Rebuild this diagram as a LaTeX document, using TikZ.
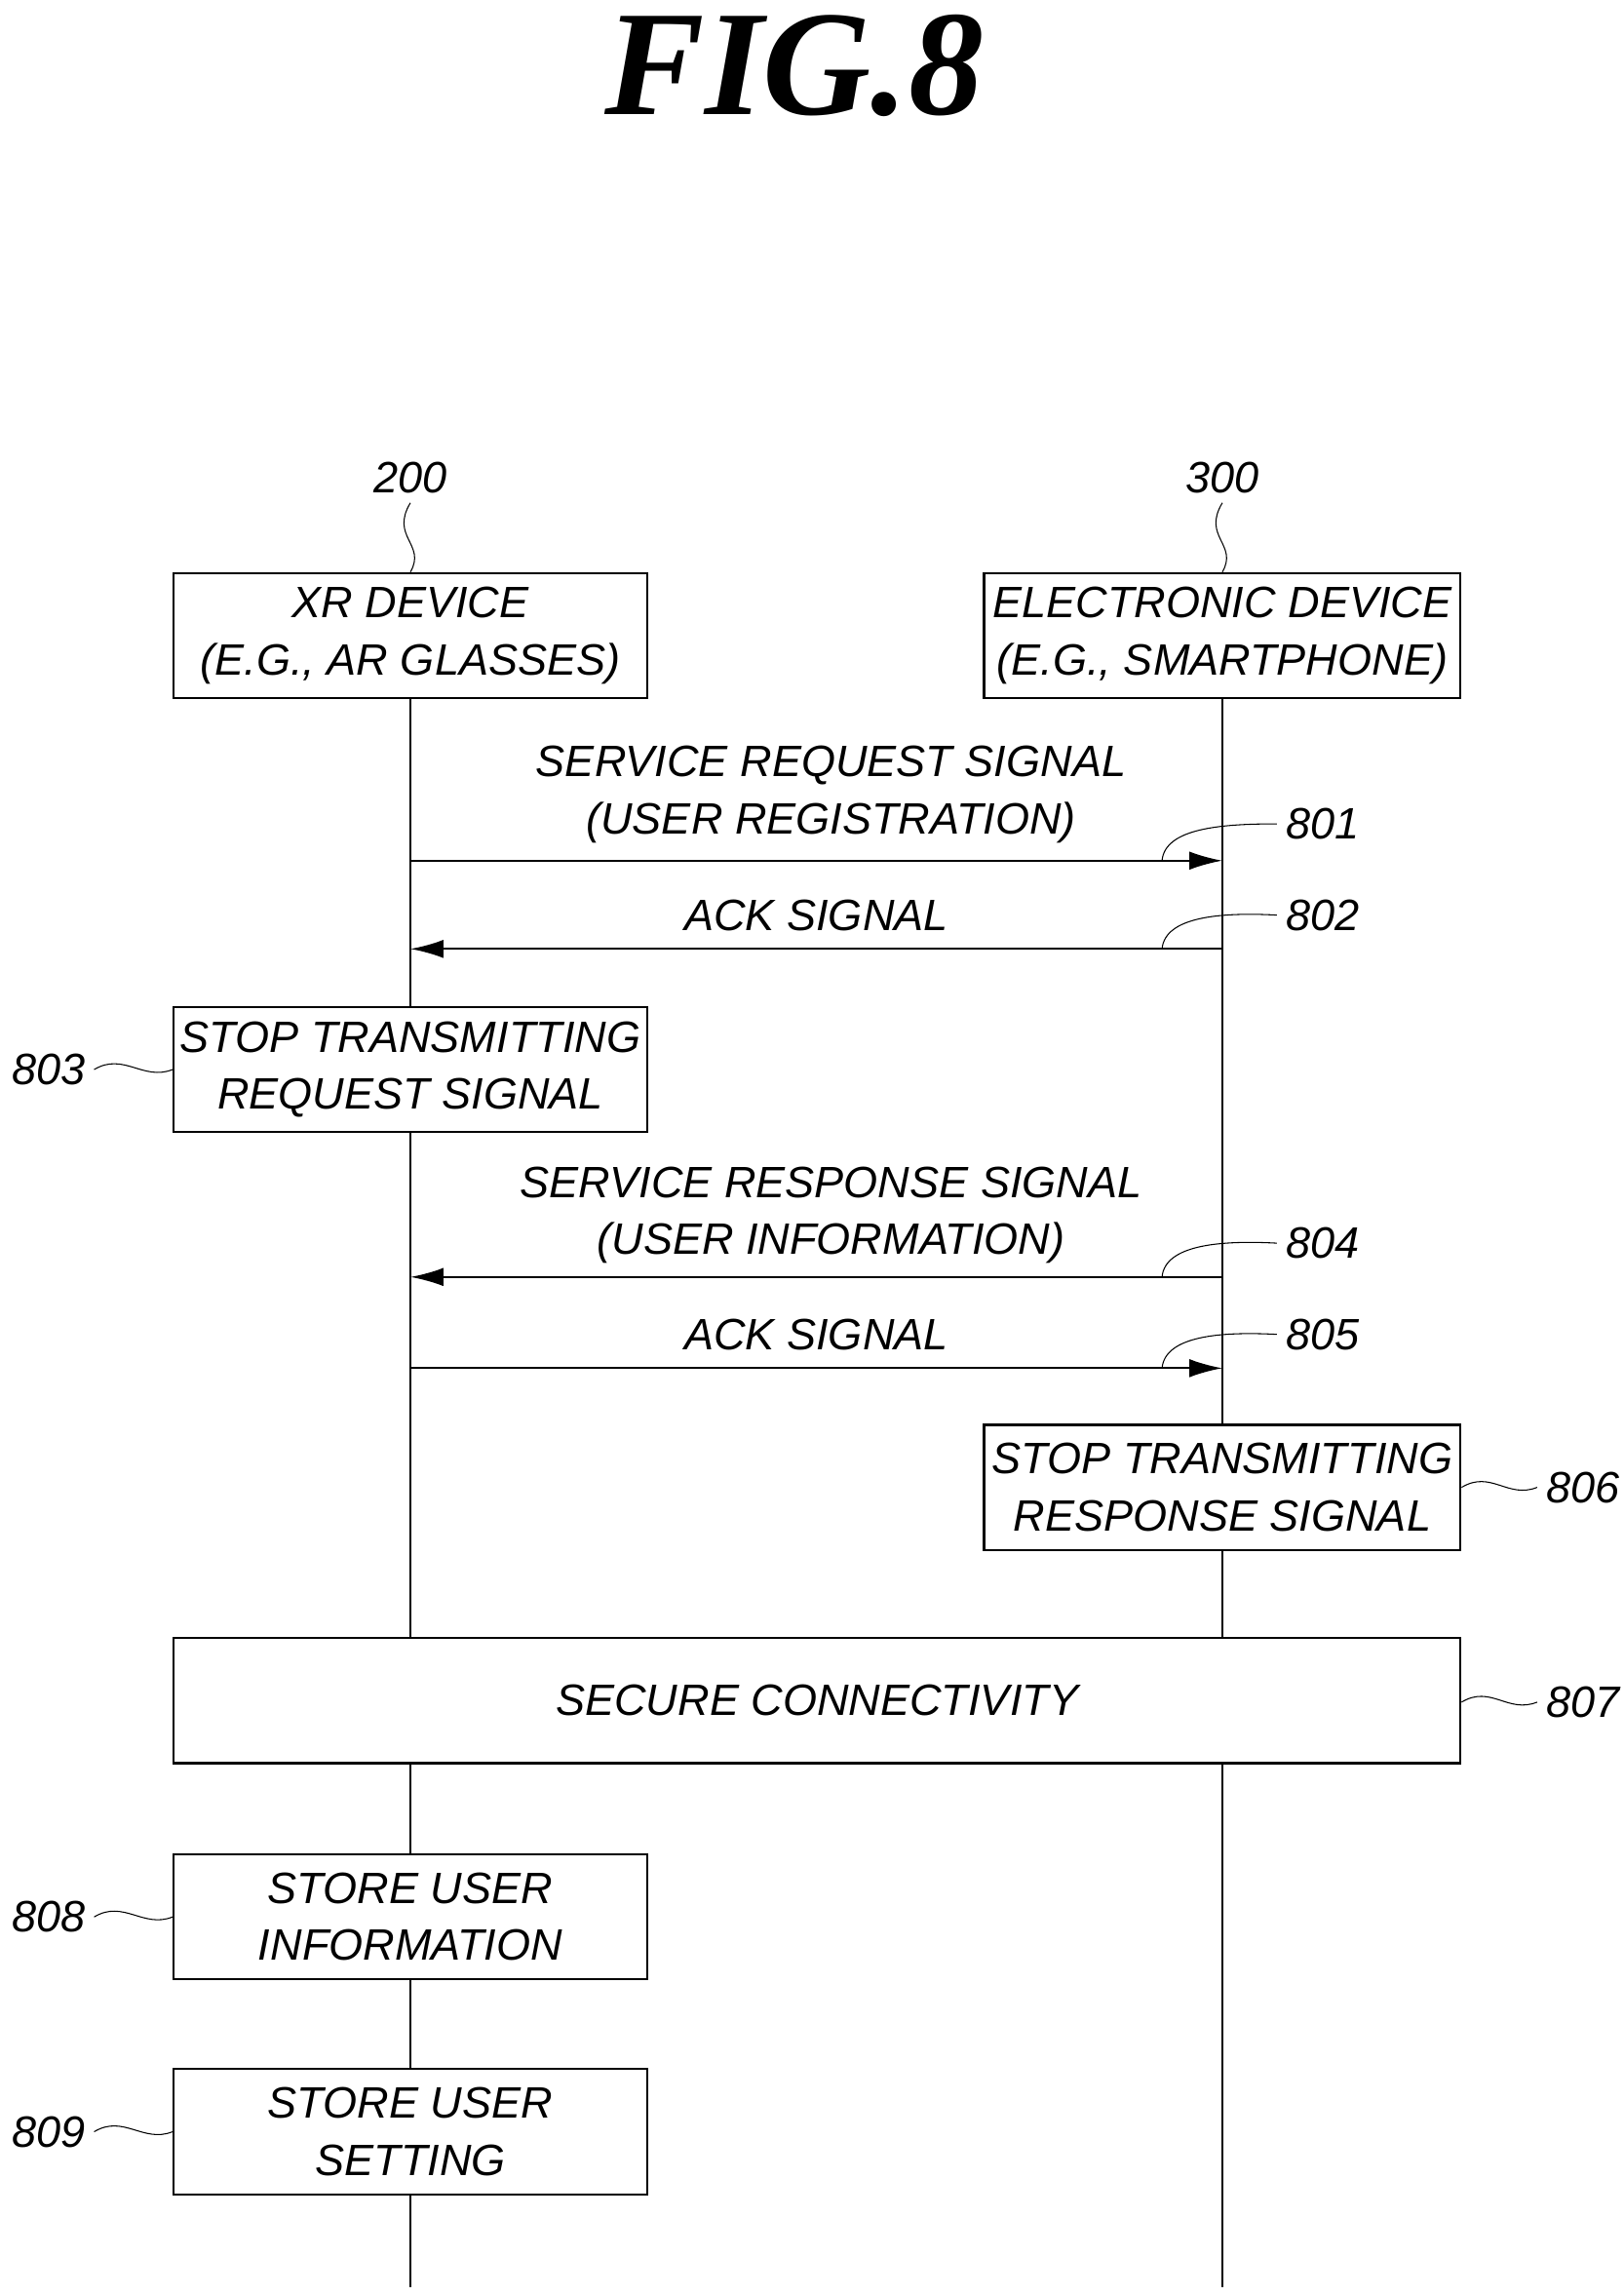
\documentclass[tikz,border=0pt]{standalone}
\usepackage{fontspec}
\setmainfont{Liberation Sans}
\usepackage{tikz}
\usetikzlibrary{arrows.meta}
\tikzset{
  txt/.style={font=\fontsize{17}{22}\selectfont\itshape,align=center},
  box/.style={draw,thick,txt,minimum height=1.7cm,inner sep=0pt},
  msg/.style={thick,-{Latex[length=0.45cm,width=0.25cm]}},
  tick/.style={thin}
}
\begin{document}
\begin{tikzpicture}[x=0.02cm,y=-0.02cm]
  \useasboundingbox (0,0) rectangle (1104,1560);
  \node[font=\fontsize{58}{60}\selectfont\bfseries\itshape,
        font=\fontsize{58}{60}\selectfont\fontspec{Liberation Serif}\bfseries\itshape] (title) at (540,45) {FIG.8};

  % devices
  \node[box,minimum width=6.44cm] (xr) at (279,432) {XR DEVICE\\(E.G., AR GLASSES)};
  \node[box,minimum width=6.48cm] (ed) at (831,432) {ELECTRONIC DEVICE\\(E.G., SMARTPHONE)};
  \node[txt] (n200) at (279,325) {200};
  \node[txt] (n300) at (831,325) {300};
  \draw[tick] (n200.south) .. controls (265,365) and (290,370) .. (xr.north);
  \draw[tick] (n300.south) .. controls (817,365) and (842,370) .. (ed.north);

  % lifelines
  \coordinate (xrend) at (279,1555);
  \coordinate (edend) at (831,1555);
  \draw[thick] (xr.south) -- (xrend);
  \draw[thick] (ed.south) -- (edend);

  % boxes on lifelines
  \node[box,minimum width=6.44cm,fill=white] (b803) at (279,727) {STOP TRANSMITTING\\REQUEST SIGNAL};
  \node[box,minimum width=6.48cm,fill=white] (b806) at (831,1011) {STOP TRANSMITTING\\RESPONSE SIGNAL};
  \node[box,minimum width=17.5cm,fill=white] (b807) at (555.5,1156) {SECURE CONNECTIVITY};
  \node[box,minimum width=6.44cm,fill=white] (b808) at (279,1303) {STORE USER\\INFORMATION};
  \node[box,minimum width=6.44cm,fill=white] (b809) at (279,1449) {STORE USER\\SETTING};

  % messages
  \coordinate (l801) at (279,585); \coordinate (r801) at (831,585);
  \coordinate (l802) at (279,645); \coordinate (r802) at (831,645);
  \coordinate (l804) at (279,868); \coordinate (r804) at (831,868);
  \coordinate (l805) at (279,930); \coordinate (r805) at (831,930);
  \draw[msg] (l801) -- (r801);
  \draw[msg] (r802) -- (l802);
  \draw[msg] (r804) -- (l804);
  \draw[msg] (l805) -- (r805);
  \node[txt] (m801) at (565,540) {SERVICE REQUEST SIGNAL\\(USER REGISTRATION)};
  \node[txt] (m802) at (555,622) {ACK SIGNAL};
  \node[txt] (m804) at (565,826) {SERVICE RESPONSE SIGNAL\\(USER INFORMATION)};
  \node[txt] (m805) at (555,907) {ACK SIGNAL};

  % step labels
  \node[txt,anchor=west] (s801) at (868,560) {801};
  \node[txt,anchor=west] (s802) at (868,622) {802};
  \node[txt,anchor=west] (s804) at (868,845) {804};
  \node[txt,anchor=west] (s805) at (868,907) {805};
  \foreach \s/\y in {801/585,802/645,804/868,805/930}
    \draw[tick] (790,\y) .. controls (792,\y-22) and (830,\y-25) .. (s\s.west);
  \node[txt,anchor=west] (s806) at (1045,1011) {806};
  \node[txt,anchor=west] (s807) at (1045,1157) {807};
  \node[txt,anchor=east] (s803) at (64,727) {803};
  \node[txt,anchor=east] (s808) at (64,1303) {808};
  \node[txt,anchor=east] (s809) at (64,1449) {809};
  \foreach \s/\b in {806/b806,807/b807}
    \draw[tick] (\b.east |- s\s) .. controls +(20,-12) and +(-20,8) .. (s\s.west);
  \foreach \s/\b in {803/b803,808/b808,809/b809}
    \draw[tick] (s\s.east) .. controls +(20,-12) and +(-20,8) .. (\b.west |- s\s);
\end{tikzpicture}
\end{document}
